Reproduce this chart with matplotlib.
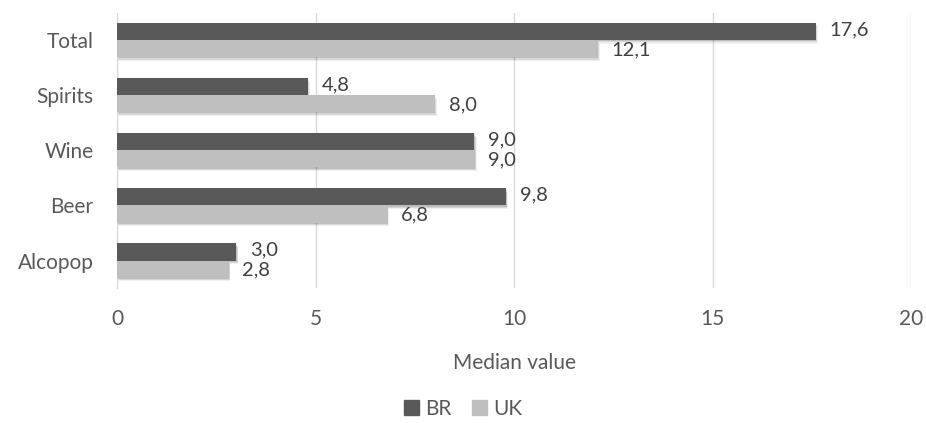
import matplotlib
matplotlib.use("Agg")
import matplotlib.pyplot as plt
import matplotlib.patheffects as pe
from matplotlib.patches import Patch
import numpy as np

plt.rcParams['font.family'] = ['Lato', 'DejaVu Sans']

categories = ["Total", "Spirits", "Wine", "Beer", "Alcopop"]
br_values = [17.6, 4.8, 9.0, 9.8, 3.0]
uk_values = [12.1, 8.0, 9.0, 6.8, 2.8]
xticks = [0, 5, 10, 15, 20]

br_color = "#595959"
uk_color = "#BFBFBF"
text_color = "#595959"
fs = 15

fig = plt.figure(figsize=(9.26, 4.23), dpi=100)
ax = fig.add_axes([0.1264, 0.319, 0.8574, 0.651])

n = len(categories)
y = np.arange(n)[::-1].astype(float)
h = 0.31

# soft drop shadow built from a few faint offset copies
shadow = [
    pe.SimplePatchShadow(offset=(0.5, -0.8), shadow_rgbFace="#000000", alpha=0.12),
    pe.SimplePatchShadow(offset=(1.0, -1.6), shadow_rgbFace="#000000", alpha=0.10),
    pe.SimplePatchShadow(offset=(1.6, -2.4), shadow_rgbFace="#000000", alpha=0.06),
    pe.Normal(),
]

bars_br = ax.barh(y + h / 2, br_values, height=h, color=br_color, zorder=3)
bars_uk = ax.barh(y - h / 2, uk_values, height=h, color=uk_color, zorder=3)
for b in list(bars_br) + list(bars_uk):
    b.set_path_effects(shadow)

def fmt(v):
    return f"{v:.1f}".replace(".", ",")

for yi, v in zip(y + h / 2, br_values):
    ax.annotate(fmt(v), (v, yi), xytext=(10, 1.5), textcoords="offset points",
                va="center", ha="left", fontsize=14.5, color="#404040", zorder=4)
for yi, v in zip(y - h / 2, uk_values):
    ax.annotate(fmt(v), (v, yi), xytext=(10, -0.5), textcoords="offset points",
                va="center", ha="left", fontsize=14.5, color="#404040", zorder=4)

ax.set_xlim(0, 20)
ax.set_ylim(-0.5, n - 0.5)
ax.set_xticks(xticks)
ax.set_xticklabels([str(t) for t in xticks], fontsize=fs, color=text_color)
ax.set_yticks(y)
ax.set_yticklabels(categories, fontsize=fs, color=text_color)
ax.tick_params(axis="both", length=0)
ax.tick_params(axis="x", pad=15)
ax.tick_params(axis="y", pad=17)
ax.grid(axis="x", color="#D9D9D9", linewidth=1, zorder=0)
for s in ["top", "right", "bottom"]:
    ax.spines[s].set_visible(False)
ax.spines["left"].set_color("#D9D9D9")
ax.spines["left"].set_zorder(2)

ax.set_xlabel("Median value", fontsize=fs, color=text_color, labelpad=17)

handles = [Patch(color=br_color), Patch(color=uk_color)]
fig.legend(handles=handles, labels=["BR", "UK"], loc="center",
           bbox_to_anchor=(0.5, 1 - 409 / 423), ncol=2, frameon=False,
           fontsize=fs, handlelength=0.7, handleheight=0.7,
           handletextpad=0.3, columnspacing=1.0, labelcolor=text_color)

fig.savefig("out.png", dpi=100, facecolor="white")
